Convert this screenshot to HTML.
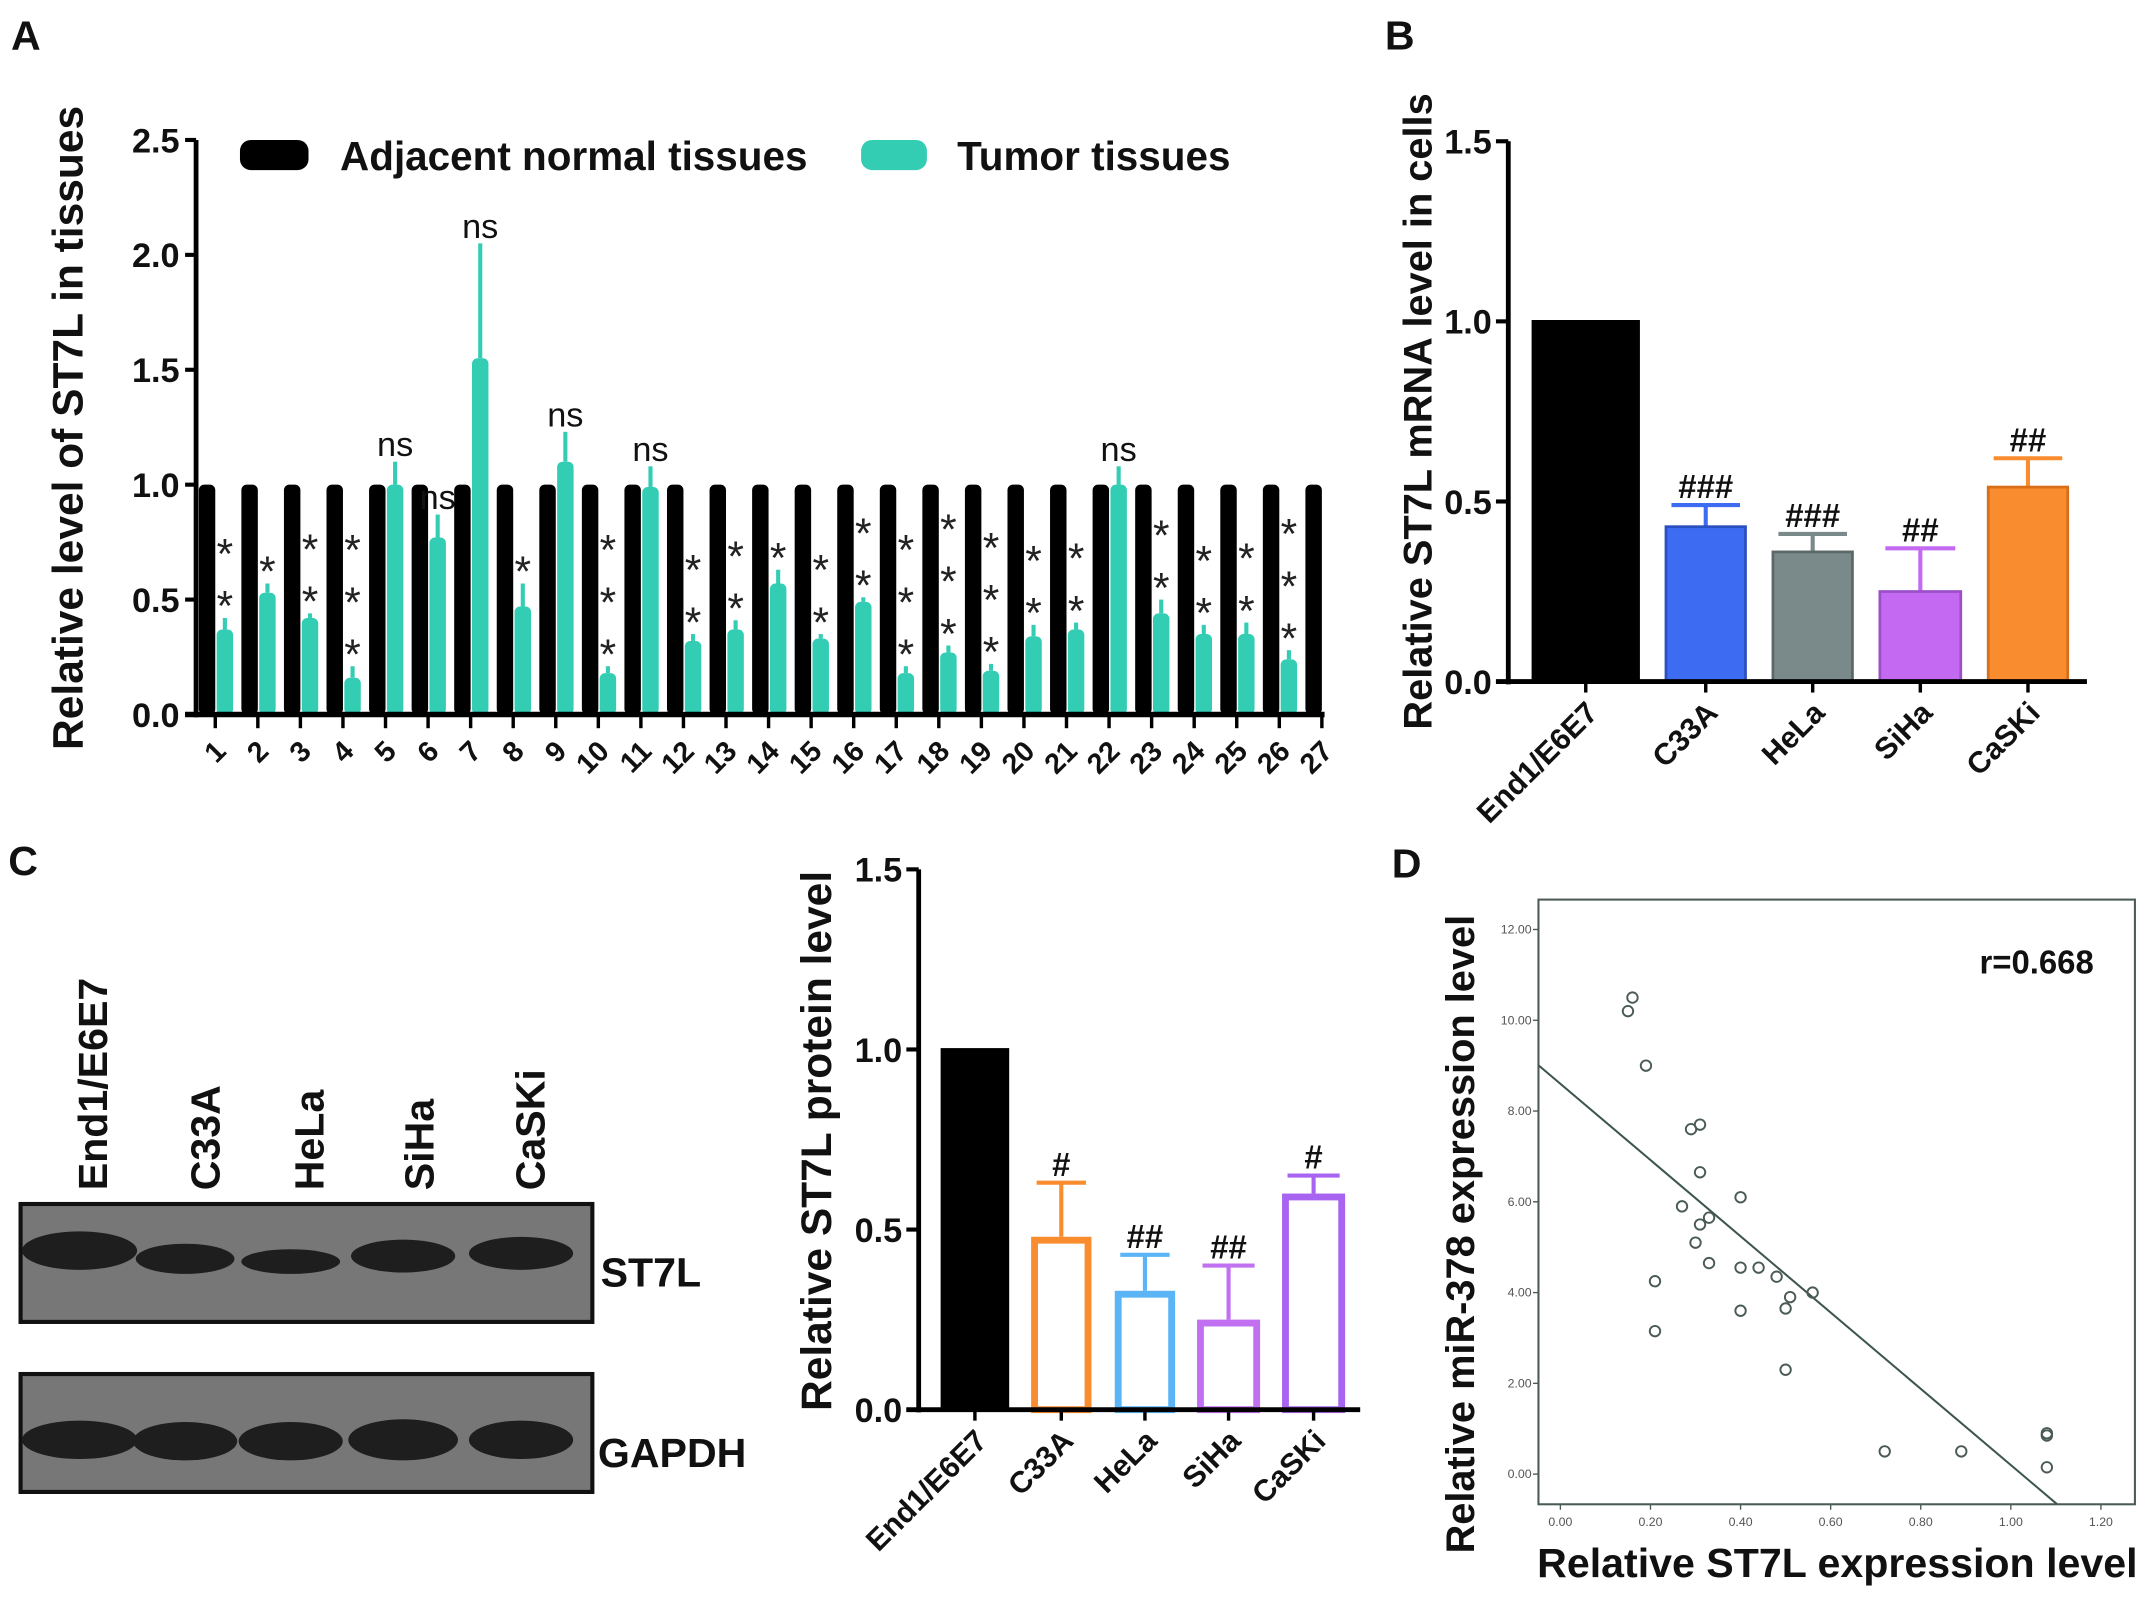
<!DOCTYPE html>
<html><head><meta charset="utf-8"><style>
html,body{margin:0;padding:0;background:#fff}
svg{display:block}
text{font-family:"Liberation Sans",Arial,sans-serif}
</style></head><body>
<svg id="fig" width="2150" height="1599" viewBox="0 0 1568 1166" xmlns="http://www.w3.org/2000/svg">
<rect width="1568" height="1166" fill="#fff"/>
<g font-weight="bold" font-size="30" fill="#111">
<text x="8" y="36">A</text>
<text x="1010" y="36">B</text>
<text x="6" y="638">C</text>
<text x="1015" y="640">D</text>
</g>
<g id="pa"></g>
<g id="pb"></g>
<g id="pc-blot">
 <g font-weight="bold" font-size="30" fill="#111">
  <text transform="translate(78,868) rotate(-90)">End1/E6E7</text>
  <text transform="translate(160,868) rotate(-90)">C33A</text>
  <text transform="translate(236,868) rotate(-90)">HeLa</text>
  <text transform="translate(316,868) rotate(-90)">SiHa</text>
  <text transform="translate(397,868) rotate(-90)">CaSKi</text>
  <text x="438" y="938">ST7L</text>
  <text x="436" y="1070">GAPDH</text>
 </g>
 <rect x="15" y="878" width="417" height="86" fill="#777" stroke="#111" stroke-width="3"/>
 <rect x="15" y="1002" width="417" height="86" fill="#777" stroke="#111" stroke-width="3"/>
 <g fill="#1e1e1e">
  <ellipse cx="58" cy="912" rx="42" ry="14"/><ellipse cx="135" cy="918" rx="36" ry="11"/><ellipse cx="212" cy="920" rx="36" ry="9"/><ellipse cx="294" cy="916" rx="38" ry="12"/><ellipse cx="380" cy="914" rx="38" ry="12"/>
  <ellipse cx="58" cy="1050" rx="42" ry="14"/><ellipse cx="135" cy="1051" rx="38" ry="14"/><ellipse cx="212" cy="1051" rx="38" ry="14"/><ellipse cx="294" cy="1050" rx="40" ry="15"/><ellipse cx="380" cy="1050" rx="38" ry="14"/>
 </g>
</g>
<g id="pc"></g>
<g id="pd"></g>
</svg>
<script>
// ---------- Panel A data ----------
const aCats = ["1","2","3","4","5","6","7","8","9","10","11","12","13","14","15","16","17","18","19","20","21","22","23","24","25","26","27"];
const aNormal = [1,1,1,1,1,1,1,1,1,1,1,1,1,1,1,1,1,1,1,1,1,1,1,1,1,1,1];
const aTumor = [0.37,0.53,0.42,0.16,1.0,0.77,1.55,0.47,1.1,0.18,0.99,0.32,0.37,0.57,0.33,0.49,0.18,0.27,0.19,0.34,0.37,1.0,0.44,0.35,0.35,0.24,0];
const aTumorErr = [0.05,0.04,0.02,0.05,0.1,0.1,0.5,0.1,0.13,0.03,0.09,0.03,0.04,0.06,0.02,0.02,0.03,0.03,0.03,0.05,0.03,0.08,0.06,0.04,0.05,0.04,0];
const aSig = ["**","*","**","***","ns","ns","ns","*","ns","***","ns","**","**","*","**","**","***","***","***","**","**","ns","**","**","**","***",""];
const aTicks = [0,0.5,1.0,1.5,2.0,2.5];
// ---------- Panel B data ----------
const bCats = ["End1/E6E7","C33A","HeLa","SiHa","CaSKi"];
const bVals = [1.0,0.43,0.36,0.25,0.54];
const bErr = [0,0.06,0.05,0.12,0.08];
const bSig = ["","###","###","##","##"];
const bTicks = [0,0.5,1.0,1.5];
// ---------- Panel C data ----------
const cCats = ["End1/E6E7","C33A","HeLa","SiHa","CaSKi"];
const cVals = [1.0,0.48,0.33,0.25,0.60];
const cErr = [0,0.15,0.10,0.15,0.05];
const cSig = ["","#","##","##","#"];
const cTicks = [0,0.5,1.0,1.5];
// ---------- Panel D data ----------
const dX = [0.15,0.16,0.19,0.29,0.31,0.31,0.40,0.27,0.33,0.31,0.30,0.33,0.40,0.44,0.48,0.21,0.56,0.51,0.50,0.40,0.21,0.50,0.72,0.89,1.08,1.08,1.08];
const dY = [10.2,10.5,9.0,7.6,7.7,6.65,6.1,5.9,5.65,5.5,5.1,4.65,4.55,4.55,4.35,4.25,4.0,3.9,3.65,3.6,3.15,2.3,0.5,0.5,0.85,0.9,0.15];
const dXTicks = [0,0.2,0.4,0.6,0.8,1.0,1.2];
const dYTicks = [0,2,4,6,8,10,12];
const dFit = [8.6,-8.4]; // intercept, slope
const NS="http://www.w3.org/2000/svg";
function mk(p,tag,attrs,txt){const e=document.createElementNS(NS,tag);for(const k in attrs)e.setAttribute(k,attrs[k]);if(txt!==undefined)e.textContent=txt;p.appendChild(e);return e;}

// ===== Panel A =====
(function(){
 const g=document.getElementById('pa');
 const y0=521,pu=167.6,x0=143,step=31.04,bw=12;
 const Y=v=>y0-v*pu, X=i=>x0+2+i*step;
 let e=mk(g,'rect',{x:155,y:94,width:785,height:42,fill:'#fff'});
 
 e=mk(g,'rect',{x:175,y:102,width:50,height:22,rx:8,fill:'#000'});
 
 e=mk(g,'text',{x:248,y:124,'font-size':29.5,'font-weight':'bold',fill:'#111'},'Adjacent normal tissues');
 
 e=mk(g,'rect',{x:628,y:102,width:48,height:22,rx:8,fill:'#33cdb4'});
 
 e=mk(g,'text',{x:698,y:124,'font-size':29.5,'font-weight':'bold',fill:'#111'},'Tumor tissues');
 
 e=mk(g,'text',{transform:'translate(60,312) rotate(-90)','text-anchor':'middle','font-size':31,'font-weight':'bold',fill:'#111'},'Relative level of ST7L in tissues');
 
 aTicks.forEach(t=>{
  mk(g,'line',{x1:x0-8,x2:x0,y1:Y(t),y2:Y(t),stroke:'#000','stroke-width':3});
  const l=mk(g,'text',{x:x0-12,y:Y(t)+9,'text-anchor':'end','font-size':25,'font-weight':'bold',fill:'#111'},t.toFixed(1));
  
 });
 aCats.forEach((c,i)=>{
  const bx=X(i);
  const b=mk(g,'rect',{x:bx,y:Y(aNormal[i]),width:bw,height:aNormal[i]*pu,rx:4,fill:'#000'});
  
  if(aTumor[i]>0){
   const tx=bx+bw+1;
   mk(g,'line',{x1:tx+bw/2,x2:tx+bw/2,y1:Y(aTumor[i]),y2:Y(aTumor[i]+aTumorErr[i]),stroke:'#33cdb4','stroke-width':3});
   const t=mk(g,'rect',{x:tx,y:Y(aTumor[i]),width:bw,height:aTumor[i]*pu,rx:4,fill:'#33cdb4'});
   
   const top=Y(aTumor[i]+aTumorErr[i]);
   if(aSig[i]==='ns'){
    const n=mk(g,'text',{x:tx+bw/2,y:top-4,'text-anchor':'middle','font-size':25,fill:'#111'},'ns');
    
   } else {
    for(let k=0;k<aSig[i].length;k++){
     const s=mk(g,'text',{x:tx+bw/2,y:top+2-k*38,'text-anchor':'middle','font-size':31,fill:'#222'},'*');
     
    }
   }
  }
  mk(g,'line',{x1:bx+bw,x2:bx+bw,y1:y0,y2:y0+10,stroke:'#000','stroke-width':2.5});
  const l=mk(g,'text',{transform:`translate(${bx+bw+9},${y0+28}) rotate(-45)`,'text-anchor':'end','font-size':21,'font-weight':'bold',fill:'#111'},c);
  
 });
 mk(g,'line',{x1:x0,x2:x0,y1:Y(2.5),y2:y0+2,stroke:'#000','stroke-width':3.5});
 mk(g,'line',{x1:x0-8,x2:966,y1:y0,y2:y0,stroke:'#000','stroke-width':4});
})();

// ===== Bar panels B and C =====
function barPanel(id,cats,vals,errs,sig,ticks,o){
 const g=document.getElementById(id);
 const Y=v=>o.y0-v*o.pu;
 let e=mk(g,'text',{transform:`translate(${o.tx},${o.ty}) rotate(-90)`,'text-anchor':'middle','font-size':o.tfs,'font-weight':'bold',fill:'#111'},o.title);
 
 ticks.forEach(t=>{
  mk(g,'line',{x1:o.x0-9,x2:o.x0,y1:Y(t),y2:Y(t),stroke:'#000','stroke-width':3});
  const l=mk(g,'text',{x:o.x0-12,y:Y(t)+9,'text-anchor':'end','font-size':25,'font-weight':'bold',fill:'#111'},t.toFixed(1));
  
 });
 cats.forEach((c,i)=>{
  const bx=o.bx[i],w=o.bw[i],col=o.cols[i];
  const cx=bx+w/2;
  if(errs[i]>0){
   mk(g,'line',{x1:cx,x2:cx,y1:Y(vals[i]),y2:Y(vals[i]+errs[i]),stroke:col,'stroke-width':3});
   mk(g,'line',{x1:cx-w/2+4,x2:cx+w/2-4,y1:Y(vals[i]+errs[i]),y2:Y(vals[i]+errs[i]),stroke:col,'stroke-width':3});
  }
  let b;
  if(o.open && i>0){
   b=mk(g,'rect',{x:bx+2.5,y:Y(vals[i])+2.5,width:w-5,height:vals[i]*o.pu-2.5,fill:'#fff',stroke:col,'stroke-width':5});
  } else {
   b=mk(g,'rect',{x:bx,y:Y(vals[i]),width:w,height:vals[i]*o.pu,fill:col,stroke:o.stroke?o.stroke[i]:col,'stroke-width':2});
  }
  
  if(sig[i]){
   const s=mk(g,'text',{x:cx,y:Y(vals[i]+errs[i])-5,'text-anchor':'middle','font-size':24,'font-weight':'bold',fill:'#111'},sig[i]);
   
  }
  mk(g,'line',{x1:cx,x2:cx,y1:o.y0,y2:o.y0+8,stroke:'#000','stroke-width':2.5});
  const l=mk(g,'text',{transform:`translate(${cx+10},${o.y0+24}) rotate(-45)`,'text-anchor':'end','font-size':22,'font-weight':'bold',fill:'#111'},c);
  
 });
 mk(g,'line',{x1:o.x0,x2:o.x0,y1:Y(ticks[ticks.length-1]),y2:o.y0+2,stroke:'#000','stroke-width':3.5});
 mk(g,'line',{x1:o.x0-9,x2:o.xe,y1:o.y0,y2:o.y0,stroke:'#000','stroke-width':3.5});
}
barPanel('pb',bCats,bVals,bErr,bSig,bTicks,{y0:497,pu:262.7,x0:1100,xe:1522,tx:1044,ty:300,tfs:29,title:'Relative ST7L mRNA level in cells',
 bx:[1118,1215,1293,1371,1450],bw:[77,58,58,59,58],cols:['#000','#3d6cf2','#7a8a8a','#c46af2','#f98c2e'],stroke:['#000','#2a4fc0','#5b6868','#9b4fc8','#d86e18']});
barPanel('pc',cCats,cVals,cErr,cSig,cTicks,{y0:1028,pu:262.7,x0:670,xe:992,tx:606,ty:832,tfs:31,title:'Relative ST7L protein level',open:true,
 bx:[687,752,813,873,935],bw:[48,44,44,46,46],cols:['#000','#f98c2e','#5ab4f5','#c070f0','#a864f0']});

// ===== Panel D =====
(function(){
 const g=document.getElementById('pd');
 const L=1122,R=1557,T=656,B=1097;
 const X=v=>1138+v*328.5, Y=v=>1075-v*33.1;
 let e=mk(g,'rect',{x:L,y:T,width:R-L,height:B-T,fill:'#fff',stroke:'#4a5a55','stroke-width':1.5});
 
 dYTicks.forEach(t=>{
  mk(g,'line',{x1:L-4,x2:L,y1:Y(t),y2:Y(t),stroke:'#4a5a55','stroke-width':1});
  const l=mk(g,'text',{x:L-5,y:Y(t)+3,'text-anchor':'end','font-size':9,fill:'#555'},t.toFixed(2));
  
 });
 dXTicks.forEach(t=>{
  mk(g,'line',{x1:X(t),x2:X(t),y1:B,y2:B+4,stroke:'#4a5a55','stroke-width':1});
  const l=mk(g,'text',{x:X(t),y:B+16,'text-anchor':'middle','font-size':9,fill:'#555'},t.toFixed(2));
  
 });
 const xa=(L-1138)/328.5, ya=dFit[0]+dFit[1]*xa;
 const yEnd=(1075-B)/33.1, xEnd=(yEnd-dFit[0])/dFit[1];
 e=mk(g,'line',{x1:X(xa),y1:Y(ya),x2:X(xEnd),y2:Y(yEnd),stroke:'#3d5550','stroke-width':1.5});
 
 dX.forEach((v,i)=>{
  const p=mk(g,'circle',{cx:X(v),cy:Y(dY[i]),r:3.8,fill:'none',stroke:'#4a5a55','stroke-width':1.4});
  
 });
 e=mk(g,'text',{x:1527,y:710,'text-anchor':'end','font-size':24,'font-weight':'bold',fill:'#111'},'r=0.668');
 
 e=mk(g,'text',{transform:'translate(1075,900) rotate(-90)','text-anchor':'middle','font-size':29,'font-weight':'bold',fill:'#111'},'Relative miR-378 expression level');
 
 e=mk(g,'text',{x:1340,y:1150,'text-anchor':'middle','font-size':30,'font-weight':'bold',fill:'#111'},'Relative ST7L expression level');
 
})();
</script>
</body></html>
